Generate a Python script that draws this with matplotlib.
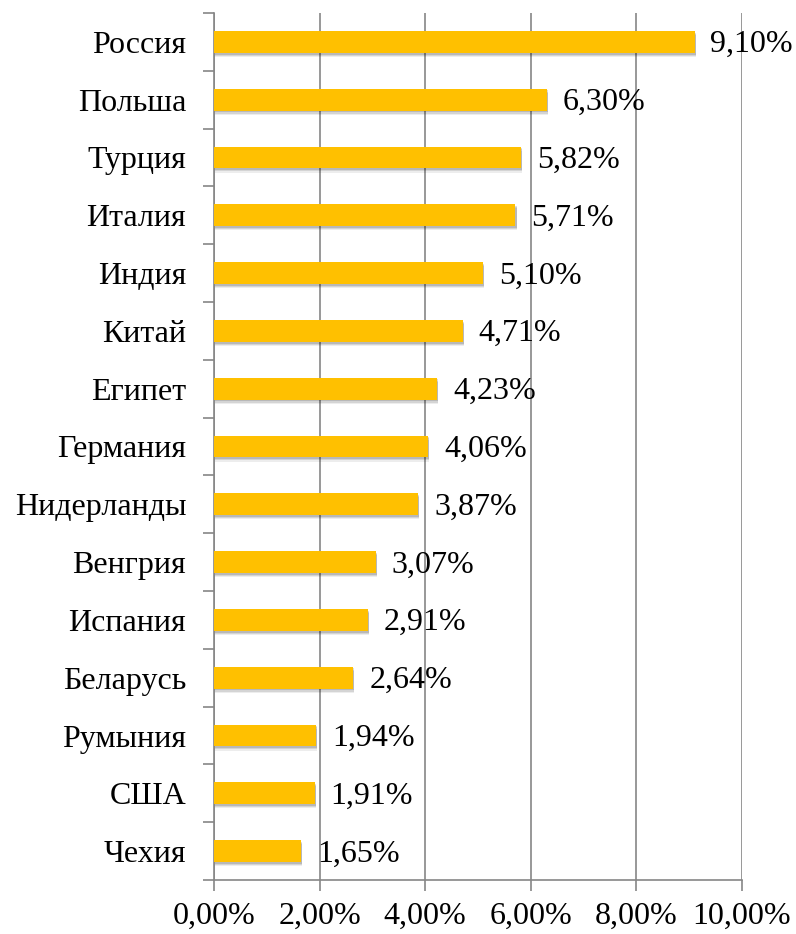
import matplotlib.pyplot as plt
from matplotlib.ticker import FixedLocator, NullFormatter
import numpy as np

countries = ["Россия", "Польша", "Турция", "Италия", "Индия", "Китай", "Египет",
             "Германия", "Нидерланды", "Венгрия", "Испания", "Беларусь",
             "Румыния", "США", "Чехия"]
shares = [9.10, 6.30, 5.82, 5.71, 5.10, 4.71, 4.23, 4.06, 3.87, 3.07, 2.91,
          2.64, 1.94, 1.91, 1.65]
xticks = [0, 2, 4, 6, 8, 10]

plt.rcParams['font.family'] = ['Liberation Serif', 'DejaVu Serif']
fs = 23

fig = plt.figure(figsize=(7.96, 9.34), dpi=100)
ax = fig.add_axes([0.2688, 0.0578, 0.6634, 0.9283])

n = len(countries)
y = np.arange(n)[::-1]
h = 0.38
gray = '#868686'

# soft shadow under bars
for dy, a in [(0.07, 0.07), (0.05, 0.10), (0.03, 0.13)]:
    ax.barh(y - dy, shares, height=h, left=0.02, color='black', alpha=a,
            linewidth=0, zorder=2)
ax.barh(y, shares, height=h, color='#FFC000', linewidth=0, zorder=3)

for yy, v in zip(y, shares):
    ax.text(v + 0.3, yy - 0.05, f"{v:.2f}%".replace('.', ','), va='center',
            ha='left', fontsize=fs, zorder=4)

ax.set_xlim(0, 10)
ax.set_ylim(-0.5, n - 0.5)
ax.set_xticks(xticks)
ax.set_xticklabels([f"{t:.2f}%".replace('.', ',') for t in xticks], fontsize=fs)
ax.set_yticks(y)
ax.set_yticklabels(countries, fontsize=fs)
ax.tick_params(axis='y', length=0, pad=20)
ax.yaxis.set_minor_locator(FixedLocator(np.arange(-0.5, n, 1)))
ax.yaxis.set_minor_formatter(NullFormatter())
ax.tick_params(axis='y', which='minor', length=8, color=gray, width=1.2)
ax.tick_params(axis='x', length=8, color=gray, width=1.2, pad=8)

ax.grid(axis='x', color=gray, linewidth=1.2, zorder=0)
ax.set_axisbelow(True)
for s in ['top', 'right']:
    ax.spines[s].set_visible(False)
for s in ['left', 'bottom']:
    ax.spines[s].set_color(gray)
    ax.spines[s].set_linewidth(1.2)

fig.savefig('out.png', dpi=100)
